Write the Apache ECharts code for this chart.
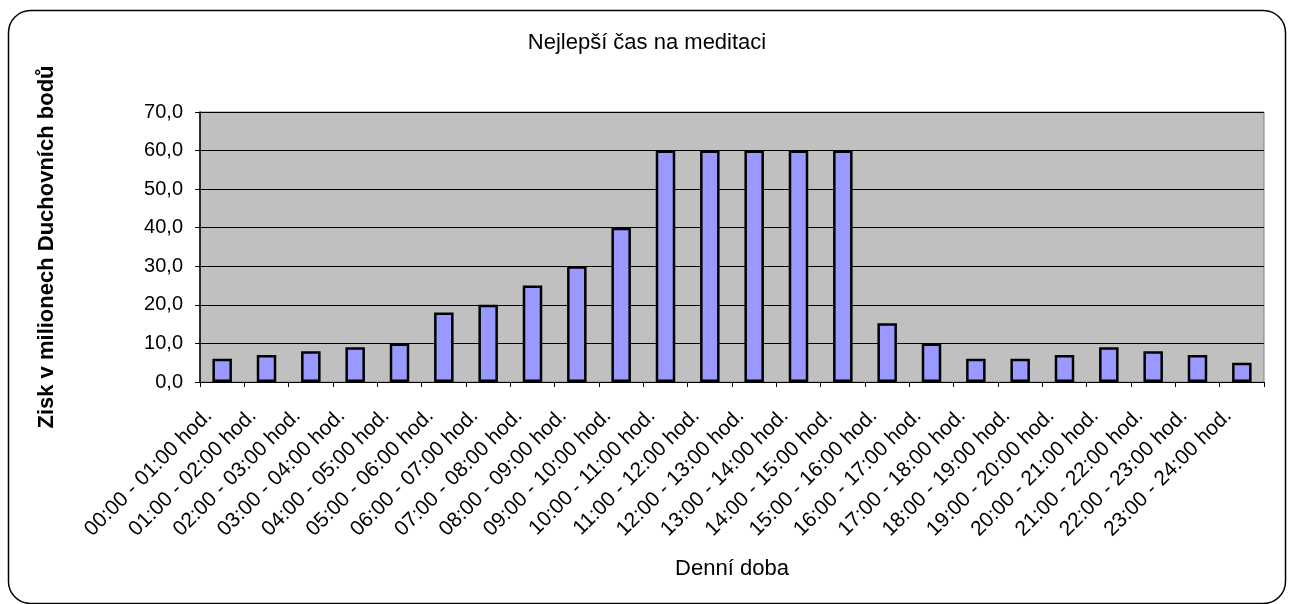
<!DOCTYPE html>
<html>
<head>
<meta charset="utf-8">
<title>Nejlepší čas na meditaci</title>
<script src="https://cdn.jsdelivr.net/npm/echarts@6/dist/echarts.min.js"></script>
<style>
  html, body { margin: 0; padding: 0; background: #fff; }
  #chart { width: 1294px; height: 604px; }
</style>
</head>
<body>
<div id="chart"></div>
<script>
const categories = [
  '00:00 - 01:00 hod.', '01:00 - 02:00 hod.', '02:00 - 03:00 hod.', '03:00 - 04:00 hod.',
  '04:00 - 05:00 hod.', '05:00 - 06:00 hod.', '06:00 - 07:00 hod.', '07:00 - 08:00 hod.',
  '08:00 - 09:00 hod.', '09:00 - 10:00 hod.', '10:00 - 11:00 hod.', '11:00 - 12:00 hod.',
  '12:00 - 13:00 hod.', '13:00 - 14:00 hod.', '14:00 - 15:00 hod.', '15:00 - 16:00 hod.',
  '16:00 - 17:00 hod.', '17:00 - 18:00 hod.', '18:00 - 19:00 hod.', '19:00 - 20:00 hod.',
  '20:00 - 21:00 hod.', '21:00 - 22:00 hod.', '22:00 - 23:00 hod.', '23:00 - 24:00 hod.',
]
const values = [6, 7, 8, 9, 10, 18, 20, 25, 30, 40, 60, 60, 60, 60, 60, 15.2, 10, 6, 6, 7, 9, 8, 7, 5]
const yMin = 0
const yMax = 70
const yStep = 10

const font = "'Liberation Sans', Arial, sans-serif"
const chart = echarts.init(document.getElementById('chart'))

const option = {
  animation: false,
  backgroundColor: '#fff',
  textStyle: { fontFamily: font, color: '#000' },
  title: {
    text: 'Nejlepší čas na meditaci',
    left: 'center',
    top: 32,
    padding: 0,
    textStyle: { fontFamily: font, fontSize: 22, fontWeight: 'normal', color: '#000' },
  },
  // rámeček kolem celého grafu
  graphic: [{
    type: 'rect',
    silent: true,
    shape: { x: 8.5, y: 10.5, width: 1277, height: 593, r: 22 },
    style: { fill: 'none', stroke: '#000', lineWidth: 1.5 },
  }],
  grid: {
    left: 200,
    right: 30,
    top: 112,
    bottom: 222,
    show: true,
    backgroundColor: '#c0c0c0',
    borderColor: '#808080',
    borderWidth: 1,
  },
  xAxis: {
    type: 'category',
    data: categories,
    name: 'Denní doba',
    nameLocation: 'middle',
    nameGap: 176,
    nameTextStyle: { fontFamily: font, fontSize: 22, color: '#000' },
    axisLine: { lineStyle: { color: '#000', width: 1 } },
    axisTick: { show: true, length: 5, lineStyle: { color: '#000' } },
    axisLabel: {
      interval: 0,
      rotate: 45,
      margin: 17,
      padding: [0, 19, 0, 0],
      fontFamily: font,
      fontSize: 21,
      color: '#000',
    },
  },
  yAxis: {
    type: 'value',
    min: yMin,
    max: yMax,
    interval: yStep,
    name: 'Zisk v milionech Duchovních bodů',
    nameLocation: 'middle',
    nameGap: 142,
    nameTextStyle: { fontFamily: font, fontSize: 22, fontWeight: 'bold', color: '#000' },
    axisLine: { show: true, lineStyle: { color: '#000', width: 1.5 } },
    axisTick: { show: true, length: 5, lineStyle: { color: '#000' } },
    axisLabel: {
      margin: 17,
      fontFamily: font,
      fontSize: 20,
      color: '#000',
      formatter: (v) => v.toFixed(1).replace('.', ','),
    },
    splitLine: { lineStyle: { color: '#000', width: 1 } },
  },
  series: [{
    type: 'bar',
    data: values,
    barWidth: '44%',
    itemStyle: { color: '#9999ff', borderColor: '#000', borderWidth: 2.5 },
  }],
}

chart.setOption(option)
</script>
</body>
</html>
